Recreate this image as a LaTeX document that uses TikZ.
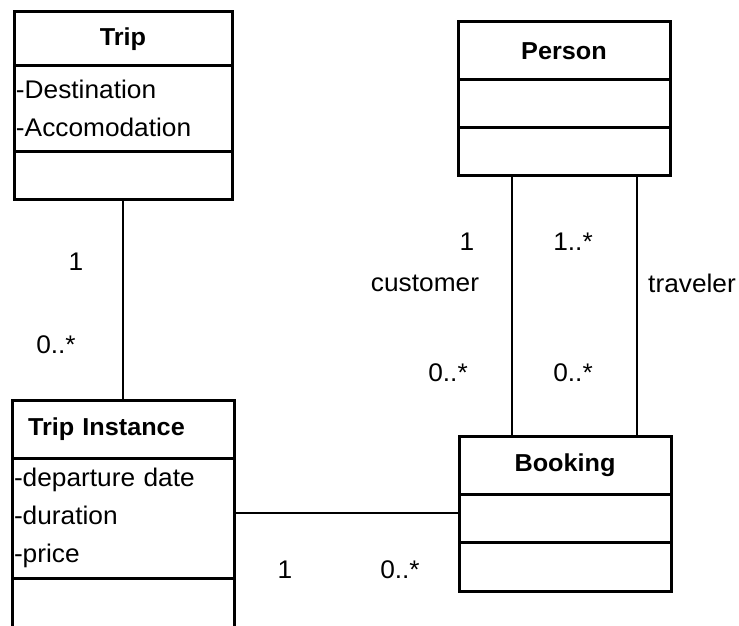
\documentclass[tikz,border=0pt]{standalone}
\usepackage{fontspec}
\setmainfont{Liberation Sans}[FakeStretch=1.03]
\usetikzlibrary{positioning}

\begin{document}
\begin{tikzpicture}[
      x=1pt,y=-1pt,node distance=0pt,
      every node/.style={font=\fontsize{25.5}{38}\selectfont},
      box/.style={draw, line width=3pt, inner sep=0pt, outer sep=0pt},
      title/.style={box, font=\fontsize{24.5}{38}\selectfont\bfseries},
      attrs/.style={box, align=left, inner xsep=2pt},
      assoc/.style={line width=2.5pt},
      ]

      \clip (0,0) rectangle (739,626);

      % classes
      \node[title, minimum width=218pt, minimum height=54pt]   (trip_h) at (123,39)   {Trip};
      \node[attrs, text width=214pt, minimum height=85pt]      (trip_a) [below=of trip_h] {-Destination\\-Accomodation};
      \node[box, minimum width=218pt, minimum height=48pt]     (trip_o) [below=of trip_a] {};

      \node[title, minimum width=212pt, minimum height=58pt]   (ps_h) at (564,51)     {Person};
      \node[box, minimum width=212pt, minimum height=47pt]     (ps_a) [below=of ps_h] {};
      \node[box, minimum width=212pt, minimum height=48pt]     (ps_o) [below=of ps_a] {};

      \node[title, text width=190pt, inner xsep=16pt, align=left, minimum height=58pt] (ti_h) at (123,429) {Trip Instance};
      \node[attrs, text width=218pt, minimum height=120pt]     (ti_a) [below=of ti_h] {-departure date\\-duration\\-price};
      \node[box, minimum width=222pt, minimum height=100pt]    (ti_o) [below=of ti_a] {};

      \node[title, minimum width=212pt, minimum height=58pt]   (bk_h) at (565,465)    {Booking};
      \node[box, minimum width=212pt, minimum height=48pt]     (bk_a) [below=of bk_h] {};
      \node[box, minimum width=212pt, minimum height=49pt]     (bk_o) [below=of bk_a] {};

      % associations
      \draw[assoc] (trip_o.south) -- (ti_h.north);
      \draw[assoc] ([yshift=5pt]ti_a.east) -- ([yshift=5pt]bk_a.west);
      \draw[assoc] ([xshift=-52pt]ps_o.south) -- ([xshift=-52pt]ps_o.south |- bk_h.north);
      \draw[assoc] ([xshift=73pt]ps_o.south) -- ([xshift=73pt]ps_o.south |- bk_h.north);

      % multiplicities and roles
      \node (m_trip)  at (76,262)  {1};
      \node (m_ti)    at (56,345)  {0..*};
      \node (m_cust)  at (467,242) {1};
      \node (r_cust)  at (425,283) {customer};
      \node (m_bkc)   at (448,373) {0..*};
      \node (m_trav)  at (573,242) {1..*};
      \node (r_trav)  at (692,283) {traveler};
      \node (m_bkt)   at (573,373) {0..*};
      \node (m_tib)   at (285,570) {1};
      \node (m_bkti)  at (400,570) {0..*};
    \end{tikzpicture}
\end{document}
